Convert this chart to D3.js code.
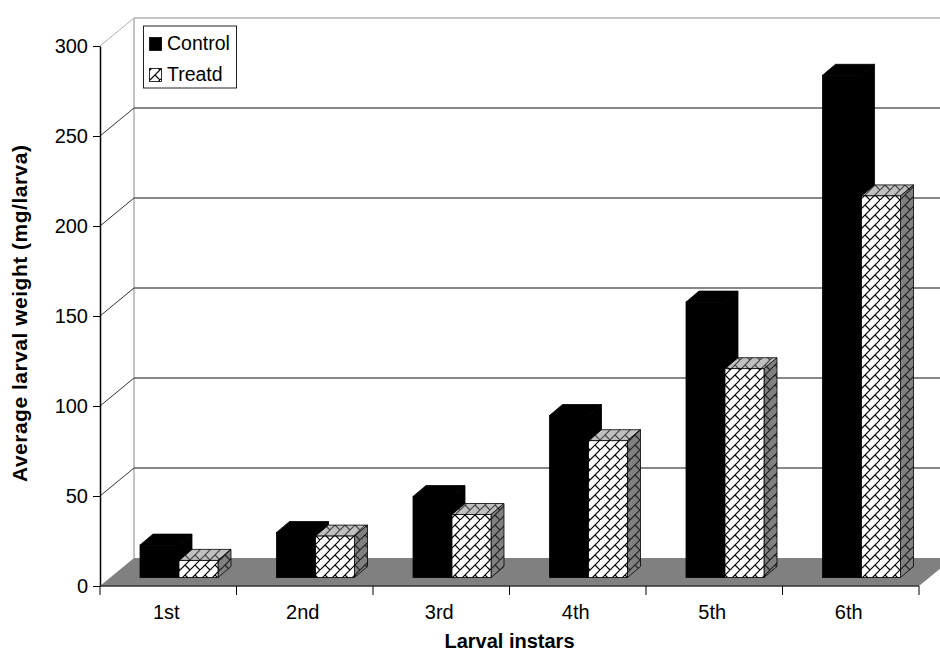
<!DOCTYPE html>
<html>
<head>
<meta charset="utf-8">
<script src="https://cdnjs.cloudflare.com/ajax/libs/d3/7.8.5/d3.min.js"></script>
<style>
    html, body { margin: 0; padding: 0; background: #fff; }
    svg { display: block; }
    text { font-family: "Liberation Sans", Arial, sans-serif; fill: #000; }
</style>
</head>
<body>
<div id="chart"></div>
<script>
const categories = ["1st", "2nd", "3rd", "4th", "5th", "6th"];
const seriesNames = ["Control", "Treatd"];
const controlValues = [18, 25, 45, 90, 153, 279];
const treatedValues = [9.5, 23, 35, 76, 116, 212];
const yTicks = [0, 50, 100, 150, 200, 250, 300];

const width = 940, height = 652;
const depthX = 34, depthY = 28;      // wall offset of the 3D box
const barDepthX = 13, barDepthY = 11;
const barLift = 8.5;                 // bars stand inside the floor

const svg = d3.select("#chart").append("svg")
    .attr("width", width)
    .attr("height", height);

const x0 = d3.scaleBand().domain(categories).range([100, 919]);
const x1 = d3.scaleBand().domain(seriesNames).range([40, 118]);
const y = d3.scaleLinear().domain([0, 300]).range([586, 46]);

// Brick hatch, one per face shade
const defs = svg.append("defs");
function addHatch(id, bg, line, transform) {
    const p = defs.append("pattern")
        .attr("id", id)
        .attr("patternUnits", "userSpaceOnUse")
        .attr("patternTransform", transform)
        .attr("width", 16).attr("height", 16);
    p.append("rect").attr("width", 16).attr("height", 16).attr("fill", bg);
    p.append("path")
        .attr("d", "M0,8L8,0M0,16L16,0M8,16L16,8M4,4L8,8M12,12L16,16M12,4L16,8M4,12L8,16")
        .attr("stroke", line)
        .attr("stroke-width", 0.95)
        .attr("fill", "none");
}
addHatch("hatchFront", "#fff", "#000", "scale(1.25)");
addHatch("hatchTop", "#c0c0c0", "#444", "scale(1.25)");
addHatch("hatchSide", "#808080", "#222", "scale(1.25)");

// Floor, back wall and left wall lines
const wall = svg.append("g");
wall.append("polygon")
    .attr("points", [[100, y(0)], [100 + depthX, y(0) - depthY], [919 + depthX, y(0) - depthY], [919, y(0)]].join(" "))
    .attr("fill", "#808080");
wall.append("line")
    .attr("x1", 134).attr("x2", 134)
    .attr("y1", y(300) - depthY).attr("y2", y(0) - depthY)
    .attr("stroke", "#b0b0b0").attr("stroke-width", 1.5);
wall.selectAll(".grid")
    .data(yTicks.slice(1))
    .enter().append("line")
    .attr("class", "grid")
    .attr("x1", 134).attr("x2", width)
    .attr("y1", d => y(d) - depthY)
    .attr("y2", d => y(d) - depthY)
    .attr("stroke", d => d === 300 ? "#b0b0b0" : "#606060")
    .attr("stroke-width", 1.5);
wall.selectAll(".side")
    .data(yTicks.slice(1))
    .enter().append("line")
    .attr("class", "side")
    .attr("x1", 100).attr("x2", 134)
    .attr("y1", d => y(d))
    .attr("y2", d => y(d) - depthY)
    .attr("stroke", d => d === 300 ? "#b0b0b0" : "#333");

// Bars
function drawBars(values, name, front, top, side) {
    const g = svg.append("g").attr("class", "bars-" + name);
    categories.forEach((c, i) => {
        const left = x0(c) + x1(name);
        const right = left + x1.bandwidth();
        const base = y(0) - barLift;
        const head = y(values[i]) - barLift;
        g.append("polygon")
            .attr("points", [[left, head], [left + barDepthX, head - barDepthY], [right + barDepthX, head - barDepthY], [right, head]].join(" "))
            .attr("fill", top).attr("stroke", "#000").attr("stroke-width", 0.8);
        g.append("polygon")
            .attr("points", [[right, head], [right + barDepthX, head - barDepthY], [right + barDepthX, base - barDepthY], [right, base]].join(" "))
            .attr("fill", side).attr("stroke", "#000").attr("stroke-width", 0.8);
        g.append("rect")
            .attr("x", left).attr("y", head)
            .attr("width", right - left).attr("height", base - head)
            .attr("fill", front).attr("stroke", "#000").attr("stroke-width", 0.8);
    });
}
// control first, the treated bars sit in front of them
drawBars(controlValues, "Control", "#000", "#000", "#000");
drawBars(treatedValues, "Treatd", "url(#hatchFront)", "url(#hatchTop)", "url(#hatchSide)");

// Axes
const yAxis = d3.axisLeft(y).tickValues(yTicks).tickSizeInner(7).tickSizeOuter(0).tickPadding(5).tickFormat(d3.format("d"));
const gy = svg.append("g").attr("transform", "translate(100,0)").call(yAxis);
gy.select(".domain").attr("stroke", "#000").attr("stroke-width", 1.5);
gy.selectAll("text").style("font-size", "20px");

const xAxis = d3.axisBottom(x0).tickSize(0).tickPadding(19);
const gx = svg.append("g").attr("transform", `translate(-2,${y(0)})`).call(xAxis);
gx.select(".domain").remove();
gx.selectAll("text").style("font-size", "20px");
svg.append("line")
    .attr("x1", 100).attr("x2", 919)
    .attr("y1", y(0)).attr("y2", y(0))
    .attr("stroke", "#333").attr("stroke-width", 1.5);
svg.selectAll(".xtick")
    .data(d3.range(categories.length + 1))
    .enter().append("line")
    .attr("class", "xtick")
    .attr("x1", d => 100 + d * x0.step()).attr("x2", d => 100 + d * x0.step())
    .attr("y1", y(0)).attr("y2", y(0) + 9)
    .attr("stroke", "#000");

// Axis titles
svg.append("text")
    .attr("x", 509.5).attr("y", 647.5)
    .attr("text-anchor", "middle")
    .style("font-size", "20px").style("font-weight", "bold")
    .text("Larval instars");
svg.append("text")
    .attr("transform", "translate(27,313.5) rotate(-90)")
    .attr("text-anchor", "middle")
    .style("font-size", "21px").style("font-weight", "bold")
    .attr("textLength", 337)
    .text("Average larval weight (mg/larva)");

// Legend
const legend = svg.append("g");
legend.append("rect")
    .attr("x", 143.5).attr("y", 26).attr("width", 93).attr("height", 62)
    .attr("fill", "#fff").attr("stroke", "#222").attr("stroke-width", 1);
seriesNames.forEach((s, i) => {
    legend.append("rect")
        .attr("x", 149.5).attr("y", 37.5 + i * 31)
        .attr("width", 12).attr("height", 13)
        .attr("fill", i === 0 ? "#000" : "url(#hatchFront)")
        .attr("stroke", "#000").attr("stroke-width", 0.8);
    legend.append("text")
        .attr("x", 167).attr("y", 50 + i * 31)
        .style("font-size", "19.5px")
        .text(s);
});
</script>
</body>
</html>
